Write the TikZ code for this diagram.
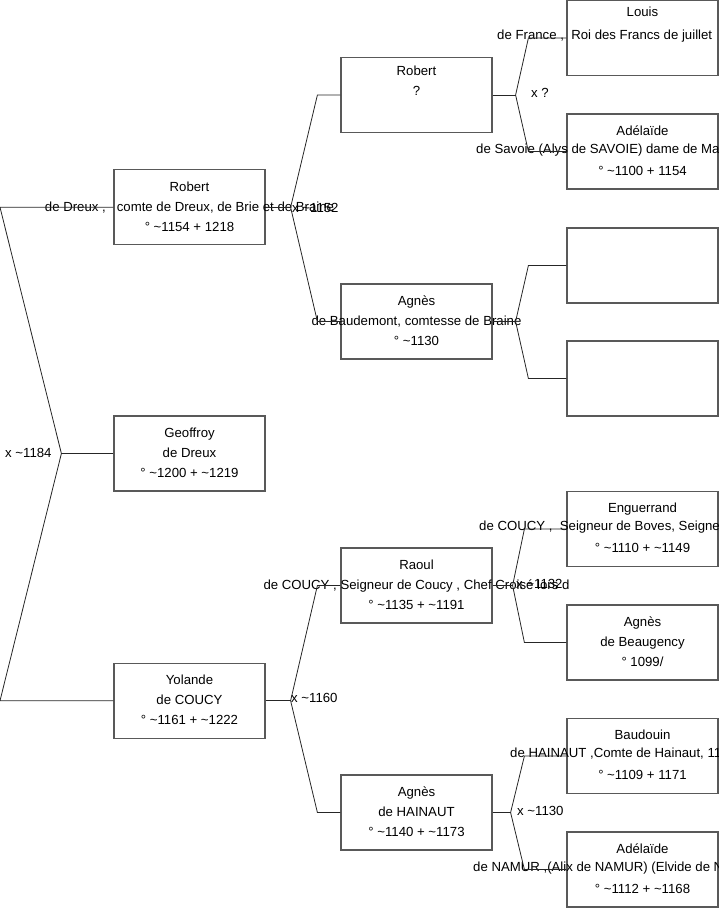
\documentclass[tikz,border=0pt]{standalone}
\usepackage{fontspec}
\setmainfont{Liberation Sans}
\usetikzlibrary{positioning}
\newcommand{\ca}{\textasciitilde}

\begin{document}
\begin{tikzpicture}[
        x=1pt, y=-1pt,
        font=\fontsize{13.2}{20}\selectfont,
        pbox/.style={
            draw=black!65,
            line width=1.2pt,
            minimum width=151pt,
            minimum height=75pt,
            inner sep=0pt
        },
        ptext/.style={align=center, inner sep=0pt},
        pline/.style={anchor=west, inner sep=0pt},
        link/.style={draw=black!85, line width=0.8pt},
        marr/.style={anchor=west, inner sep=0pt}
    ]

        \useasboundingbox (0,0) rectangle (719,908);
        \coordinate (origin) at (0,0);

        % generation 1
        \node[pbox] (geoffroy) at (189.5,453.5) {};
        \node[pbox, above=170pt of geoffroy] (robertA) {};
        \node[pbox, below=171pt of geoffroy] (yolande) {};

        \node[ptext] (robertAT) at ([yshift=1pt]robertA) {Robert\\de Dreux ,\ \ \ comte de Dreux, de Brie et de Braine\\° \ca1154 + 1218};
        \node[ptext] (geoffroyT) at ([yshift=1pt]geoffroy) {Geoffroy\\de Dreux\\° \ca1200 + \ca1219};
        \node[ptext] (yolandeT) at ([yshift=1pt]yolande) {Yolande\\de COUCY\\° \ca1161 + \ca1222};

        % generation 2
        \node[pbox] (robertB) at (416.5,95) {};
        \node[pbox] (agnesB) at (416.5,321.5) {};
        \node[pbox] (raoul) at (416.5,585.5) {};
        \node[pbox] (agnesH) at (416.5,812.5) {};

        \node[ptext] (robertBT) at ([yshift=1pt]robertB) {Robert\\?\\\strut};
        \node[ptext] (agnesBT) at ([yshift=1pt]agnesB) {Agnès\\de Baudemont, comtesse de Braine\\° \ca1130};
        \node[ptext] (raoulT) at ([yshift=1pt]raoul) {Raoul\\de COUCY , Seigneur de Coucy , Chef Croisé lors d\\° \ca1135 + \ca1191};
        \node[ptext] (agnesHT) at ([yshift=1pt]agnesH) {Agnès\\de HAINAUT\\° \ca1140 + \ca1173};

        % generation 3
        \node[pbox] (louis) at (642.5,38) {};
        \node[pbox] (adelaideS) at (642.5,151.5) {};
        \node[pbox] (blankA) at (642.5,265.5) {};
        \node[pbox] (blankB) at (642.5,378.5) {};
        \node[pbox] (enguerrand) at (642.5,529) {};
        \node[pbox] (agnesBg) at (642.5,642.5) {};
        \node[pbox] (baudouin) at (642.5,756) {};
        \node[pbox] (adelaideN) at (642.5,869.5) {};

        \node[ptext] (louisT) at ([yshift=3pt]louis) {Louis\\\strut\\\strut};
        \node[pline] (louisL) at (497,36) {de France ,\ \ Roi des Francs de juillet};
        \node[ptext] (adelaideST) at ([yshift=1pt]adelaideS) {Adélaïde\\\strut\\° \ca1100 + 1154};
        \node[pline] (adelaideSL) at (476,150) {de Savoie (Alys de SAVOIE) dame de Ma};
        \node[ptext] (enguerrandT) at ([yshift=1pt]enguerrand) {Enguerrand\\\strut\\° \ca1110 + \ca1149};
        \node[pline] (enguerrandL) at (479,527) {de COUCY ,\ \ Seigneur de Boves, Seigne};
        \node[ptext] (agnesBgT) at ([yshift=1pt]agnesBg) {Agnès\\de Beaugency\\° 1099/};
        \node[ptext] (baudouinT) at ([yshift=1pt]baudouin) {Baudouin\\\strut\\° \ca1109 + 1171};
        \node[pline] (baudouinL) at (510,754) {de HAINAUT ,Comte de Hainaut, 11};
        \node[ptext] (adelaideNT) at ([yshift=1pt]adelaideN) {Adélaïde\\\strut\\° \ca1112 + \ca1168};
        \node[pline] (adelaideNL) at (473,868) {de NAMUR ,(Alix de NAMUR) (Elvide de N};

        % parents of Geoffroy
        \draw[link] (geoffroy.west) -- ++(-52,0) coordinate (fk0);
        \draw[link] (robertA.west) -- (robertA.west -| origin) -- (fk0) -- (yolande.west -| origin) -- (yolande.west);

        % parents of Robert and Yolande
        \draw[link] (robertA.east) -- ++(25,0) coordinate (fkA);
        \draw[link] (robertB.west) -- ++(-23,0) -- (fkA) -- ([xshift=-23pt]agnesB.west) -- (agnesB.west);
        \draw[link] (yolande.east) -- ++(25,0) coordinate (fkY);
        \draw[link] (raoul.west) -- ++(-23,0) -- (fkY) -- ([xshift=-23pt]agnesH.west) -- (agnesH.west);

        % generation 2 -> 3
        \draw[link] (robertB.east) -- ++(23,0) coordinate (fkB);
        \draw[link] (louis.west) -- ++(-38,0) -- (fkB) -- ([xshift=-38pt]adelaideS.west) -- (adelaideS.west);
        \draw[link] (agnesB.east) -- ++(23,0) coordinate (fkC);
        \draw[link] (blankA.west) -- ++(-38,0) -- (fkC) -- ([xshift=-38pt]blankB.west) -- (blankB.west);
        \draw[link] (raoul.east) -- ++(20,0) coordinate (fkR);
        \draw[link] (enguerrand.west) -- ++(-42,0) -- (fkR) -- ([xshift=-42pt]agnesBg.west) -- (agnesBg.west);
        \draw[link] (agnesH.east) -- ++(18,0) coordinate (fkH);
        \draw[link] (baudouin.west) -- ++(-42,0) -- (fkH) -- ([xshift=-42pt]adelaideN.west) -- (adelaideN.west);

        % marriages
        \node[marr] (m0) at (5,453) {x \ca1184};
        \node[marr] (m1) at (292,208) {x \ca1152};
        \node[marr] (m2) at (291,698) {x \ca1160};
        \node[marr] (m3) at (531,93) {x ?};
        \node[marr] (m4) at (516,584) {x \ca1132};
        \node[marr] (m5) at (517,811) {x \ca1130};

    \end{tikzpicture}
\end{document}
